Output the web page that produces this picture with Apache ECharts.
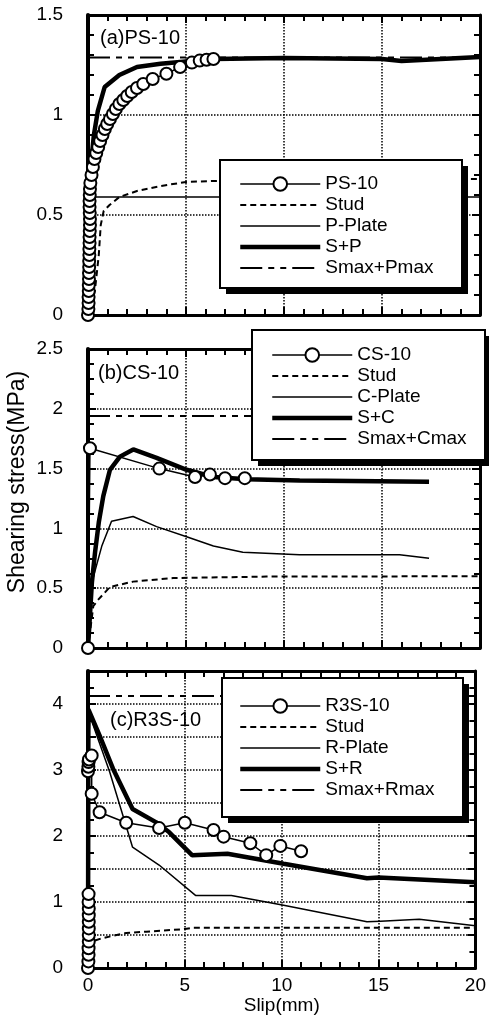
<!DOCTYPE html>
<html><head><meta charset="utf-8">
<script src="https://cdn.jsdelivr.net/npm/echarts@6/dist/echarts.min.js"></script>
<style>html,body{margin:0;padding:0;background:#fff}#c{width:489px;height:1021px}</style>
</head><body><div id="c"></div>
<script>
const FONT = '"Liberation Sans", Arial, Helvetica, sans-serif';

// ---------- Panel (a) PS-10 ----------
const psTest = [[0,0],[0.02,0.03],[0.03,0.06],[0.03,0.09],[0.04,0.12],[0.04,0.15],[0.05,0.18],[0.05,0.21],[0.06,0.24],[0.06,0.27],[0.07,0.3],[0.07,0.33],[0.08,0.36],[0.08,0.39],[0.09,0.42],[0.1,0.45],[0.1,0.48],[0.09,0.51],[0.08,0.54],[0.08,0.57],[0.09,0.6],[0.1,0.63],[0.12,0.66],[0.18,0.7],[0.25,0.74],[0.33,0.78],[0.42,0.81],[0.52,0.84],[0.62,0.87],[0.74,0.9],[0.86,0.93],[0.98,0.955],[1.12,0.98],[1.27,1.005],[1.42,1.03],[1.6,1.055],[1.8,1.075],[2.0,1.095],[2.23,1.115],[2.5,1.135],[2.82,1.155],[3.3,1.18],[4.0,1.206],[4.7,1.24],[5.3,1.262],[5.7,1.272],[6.05,1.276],[6.4,1.28]];
const psStud = [[0,0],[0.35,0.12],[0.55,0.3],[0.65,0.45],[0.8,0.52],[1.1,0.55],[1.6,0.59],[2.5,0.62],[3.7,0.645],[5,0.665],[7,0.672],[10,0.676],[15,0.68],[20,0.68]];
const psPlate = [[0,0],[0.08,0.59],[20,0.59]];
const psSum = [[0,0],[0.05,0.5],[0.15,0.75],[0.3,0.9],[0.5,1.02],[0.85,1.14],[1.6,1.2],[2.5,1.24],[3.7,1.256],[6.4,1.28],[10,1.285],[15,1.28],[16,1.27],[20,1.29]];
const psMax = [[0,1.288],[20,1.288]];

// ---------- Panel (b) CS-10 ----------
const csTest = [[0,0],[0.1,1.67],[3.64,1.5],[5.46,1.43],[6.22,1.45],[6.99,1.42],[8.0,1.42]];
const csStud = [[0,0],[0.27,0.35],[0.5,0.4],[0.78,0.45],[1.12,0.51],[2.3,0.555],[4.34,0.585],[9.1,0.597],[20,0.6]];
const csPlate = [[0,0],[0.2,0.55],[0.7,0.85],[1.2,1.06],[2.3,1.1],[3.5,1.015],[5.03,0.93],[6.4,0.853],[7.9,0.8],[10.8,0.78],[15.9,0.78],[17.4,0.75]];
const csSum = [[0,0],[0.2,0.55],[0.36,0.8],[0.55,1.05],[0.78,1.27],[1.12,1.49],[1.63,1.6],[2.31,1.66],[3.5,1.59],[5.03,1.49],[6.4,1.43],[8.1,1.41],[10.8,1.4],[17.4,1.39]];
const csMax = [[0,1.94],[20,1.94]];

// ---------- Panel (c) R3S-10 ----------
const rsTest = [[0,0],[0.02,0.1],[0.03,0.2],[0.03,0.3],[0.04,0.4],[0.04,0.5],[0.04,0.6],[0.04,0.7],[0.04,0.8],[0.04,0.9],[0.03,1.0],[0.03,1.12],[0,2.98],[0.02,3.05],[0.03,3.12],[0.05,3.16],[0.19,3.22],[0.19,2.64],[0.6,2.36],[1.97,2.2],[3.67,2.12],[5.0,2.2],[6.48,2.09],[7.0,1.99],[8.38,1.89],[9.2,1.71],[9.93,1.85],[11.0,1.77]];
const rsStud = [[0,0],[0.2,0.4],[0.7,0.45],[1.97,0.53],[3.0,0.55],[5.0,0.59],[5.4,0.61],[10,0.61],[20,0.61]];
const rsPlate = [[0,0],[0.05,3.5],[0.1,3.82],[1.12,2.97],[2.3,1.83],[3.67,1.56],[5.55,1.1],[7.4,1.1],[10.1,0.95],[14.4,0.7],[15.1,0.71],[17.1,0.74],[20,0.64]];
const rsSum = [[0,0],[0.02,3.92],[0.6,3.52],[1.29,3.02],[2.3,2.41],[3.5,2.21],[4.18,2.06],[5.37,1.71],[7.2,1.73],[10.1,1.58],[14.4,1.36],[15,1.37],[20,1.3]];
const rsMax = [[0,4.12],[20,4.12]];

// axis ranges
const xMin = 0, xMax = 20, xStep = 5;
const yMaxes = [1.5, 2.5, 4.5];
const yMinorSplits = [5, 4, 2];
const panelLabels = ['(a)PS-10', '(b)CS-10', '(c)R3S-10'];
const legendNames = [
  ['PS-10','Stud','P-Plate','S+P','Smax+Pmax'],
  ['CS-10','Stud','C-Plate','S+C','Smax+Cmax'],
  ['R3S-10','Stud','R-Plate','S+R','Smax+Rmax']
];
const panelData = [
  [psTest, psStud, psPlate, psSum, psMax],
  [csTest, csStud, csPlate, csSum, csMax],
  [rsTest, rsStud, rsPlate, rsSum, rsMax]
];

const grids = [
  {left: 88, width: 392, top: 15, height: 300},
  {left: 88, width: 392, top: 349, height: 299},
  {left: 88, width: 392, top: 671, height: 297}
];
const legendBoxes = [
  {x: 220, y: 160, w: 242, h: 128, lx: 238, ly: 174},
  {x: 252, y: 330, w: 233, h: 130, lx: 270, ly: 345},
  {x: 222, y: 678, w: 241, h: 139, lx: 238, ly: 696}
];
const labelPos = [[100, 38], [98, 373], [110, 720]];

const styles = [
  {width: 1.5, type: 'solid'},
  {width: 2, type: [6, 4]},
  {width: 1.5, type: 'solid'},
  {width: 4.5, type: 'solid'},
  {width: 2, type: [22, 6, 6, 6, 6, 6]}
];

function mkX(i, pos) {
  return {gridIndex: i, type: 'value', min: xMin, max: xMax, interval: xStep, position: pos,
    axisLine: {show: true, onZero: false, lineStyle: {color: '#000', width: 3}},
    axisTick: {show: true, inside: true, length: 8, lineStyle: {color: '#000', width: 2}},
    minorTick: {show: true, splitNumber: 5, length: 6, lineStyle: {color: '#000', width: 2}},
    splitLine: {show: pos === 'bottom', lineStyle: {color: '#000', width: 1.5, type: 'dotted'}},
    axisLabel: {show: pos === 'bottom' && i === 2, color: '#000', fontSize: 19, fontFamily: FONT, margin: 8},
    name: (pos === 'bottom' && i === 2) ? 'Slip(mm)' : '', nameLocation: 'middle', nameGap: 27,
    nameTextStyle: {color: '#000', fontSize: 19, fontFamily: FONT}};
}
function mkY(i, pos) {
  return {gridIndex: i, type: 'value', min: 0, max: yMaxes[i], interval: 0.5, position: pos,
    axisLine: {show: true, onZero: false, lineStyle: {color: '#000', width: pos === 'left' ? 4 : 3}},
    axisTick: {show: true, inside: true, length: 8, lineStyle: {color: '#000', width: 2}},
    minorTick: {show: true, splitNumber: yMinorSplits[i], length: 6, lineStyle: {color: '#000', width: 2}},
    splitLine: {show: pos === 'left', lineStyle: {color: '#000', width: 1.5, type: 'dotted'}},
    axisLabel: {show: pos === 'left', color: '#000', fontSize: 19, fontFamily: FONT, margin: 25,
      formatter: i === 2 ? (v => Math.abs(v - Math.round(v)) < 1e-9 ? String(Math.round(v)) : '') : (v => String(v))}};
}

const xAxes = [], yAxes = [], series = [], legends = [], graphics = [];
for (let i = 0; i < 3; i++) {
  xAxes.push(mkX(i, 'bottom'));
  xAxes.push(mkX(i, 'top'));
  yAxes.push(mkY(i, 'left'));
  yAxes.push(mkY(i, 'right'));

  const names = legendNames[i];
  const d = panelData[i];
  const order = [1, 2, 4, 3, 0];
  order.forEach(k => {
    const s = {xAxisIndex: 2 * i, yAxisIndex: 2 * i, type: 'line', name: names[k], data: d[k],
      z: k === 0 ? 5 : (k === 3 ? 4 : 3),
      lineStyle: {color: '#000', width: styles[k].width, type: styles[k].type}};
    if (k === 0) {
      s.symbol = 'circle'; s.symbolSize = 12;
      s.itemStyle = {color: '#fff', borderColor: '#000', borderWidth: 2};
    } else {
      s.symbol = 'none';
    }
    series.push(s);
  });

  const b = legendBoxes[i];
  graphics.push({type: 'rect', z: 10, shape: {x: b.x + 6, y: b.y + 6, width: b.w, height: b.h}, style: {fill: '#000'}});
  graphics.push({type: 'rect', z: 11, shape: {x: b.x, y: b.y, width: b.w, height: b.h}, style: {fill: '#fff', stroke: '#000', lineWidth: 2}});
  legends.push({show: true, left: b.lx, top: b.ly, orient: 'vertical', z: 20, selectedMode: false,
    itemWidth: 80, itemHeight: 17, itemGap: 1, padding: 0,
    textStyle: {color: '#000', fontSize: 19, fontFamily: FONT, lineHeight: 20},
    data: names.map((n, k) => k === 0
      ? {name: n, lineStyle: {color: '#000', width: 1.5}}
      : {name: n, itemStyle: {opacity: 0}, lineStyle: {color: '#000', width: styles[k].width, type: styles[k].type}})});
  graphics.push({type: 'text', z: 12, x: labelPos[i][0], y: labelPos[i][1],
    style: {text: panelLabels[i], fill: '#000', font: '20px ' + FONT, align: 'left', verticalAlign: 'middle'}});
}
graphics.push({type: 'text', z: 12, x: 18, y: 482, rotation: Math.PI / 2,
  style: {text: 'Shearing stress(MPa)', fill: '#000', font: '23px ' + FONT, align: 'center', verticalAlign: 'middle'}});

const chart = echarts.init(document.getElementById('c'));
chart.setOption({
  animation: false,
  backgroundColor: '#fff',
  grid: grids,
  xAxis: xAxes,
  yAxis: yAxes,
  legend: legends,
  graphic: graphics,
  series: series
});
</script>
</body></html>
